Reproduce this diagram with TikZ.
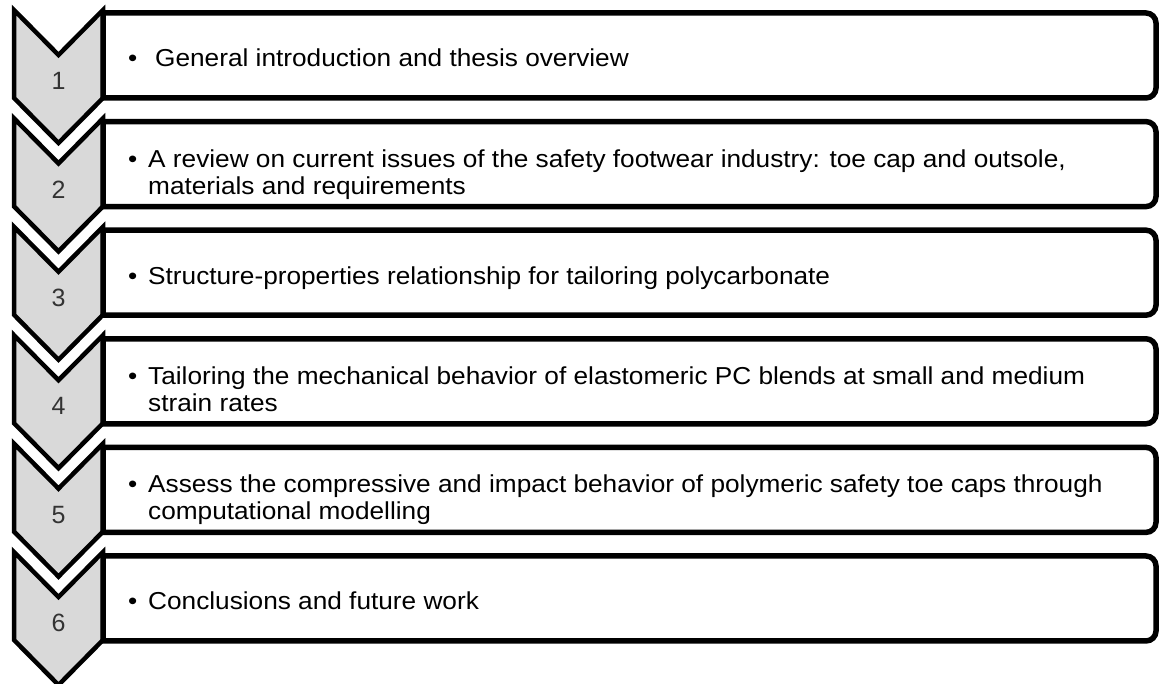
\documentclass[tikz,border=0pt]{standalone}
\usepackage{fontspec}
\setmainfont{Liberation Sans}
\newfontfamily\itemfont[FakeStretch=1.07]{Liberation Sans}
\definecolor{chevgray}{RGB}{217,217,217}
% bullet followed by a hanging-indented text block
\newcommand\stageitem[2]{\makebox[#1][l]{\textbullet}\parbox[t]{980pt}{\raggedright #2}}
\begin{document}
\begin{tikzpicture}[x=1pt,y=1pt,
  chev/.style={draw=black, line width=4.5pt, fill=chevgray, line join=miter},
  stagebox/.style={draw=black, line width=5.5pt, fill=white},
  numlabel/.style={font=\fontsize{25}{30}\selectfont, text=black!80, inner sep=0pt},
  itemtext/.style={font=\itemfont\fontsize{24.5}{27}\selectfont, anchor=base west, inner sep=0pt}]
\useasboundingbox (0,0) rectangle (1160,684);
\fill[white] (0,0) rectangle (1160,684);

% chevron column with stage numbers
\foreach \k in {0,...,5}{
  \pgfmathsetmacro\T{674-108.4*\k}
  \draw[chev] (14,\T) -- (58.5,\T-45) -- (103,\T) -- (103,\T-88)
    -- (58.5,\T-133) -- (14,\T-88) -- cycle;
  \pgfmathtruncatemacro\n{\k+1}
  \node[numlabel] (num\n) at (58.5,\T-71) {\n};
}

% content boxes, square on the left, rounded on the right
\foreach \k in {0,...,5}{
  \pgfmathsetmacro\Bt{671-108.6*\k}
  \pgfmathsetmacro\Bb{\Bt-85}
  \draw[stagebox] (103,\Bb) -- (103,\Bt) -- (1146,\Bt)
    arc[start angle=90, end angle=0, radius=10] -- (1156,\Bb+10)
    arc[start angle=0, end angle=-90, radius=10] -- cycle;
}

\node[itemtext] (item1) at (128,617)
  {\stageitem{27pt}{General introduction and thesis overview}};
\node[itemtext] (item2) at (128,516.8)
  {\stageitem{20pt}{A review on current issues of the safety footwear industry: toe cap and outsole,\\materials and requirements}};
\node[itemtext] (item3) at (128,399.8)
  {\stageitem{20pt}{Structure-properties relationship for tailoring polycarbonate}};
\node[itemtext] (item4) at (128,299.6)
  {\stageitem{20pt}{Tailoring the mechanical behavior of elastomeric PC blends at small and medium\\strain rates}};
\node[itemtext] (item5) at (128,191.4)
  {\stageitem{20pt}{Assess the compressive and impact behavior of polymeric safety toe caps through\\computational modelling}};
\node[itemtext] (item6) at (128,74)
  {\stageitem{20pt}{Conclusions and future work}};
\end{tikzpicture}
\end{document}
